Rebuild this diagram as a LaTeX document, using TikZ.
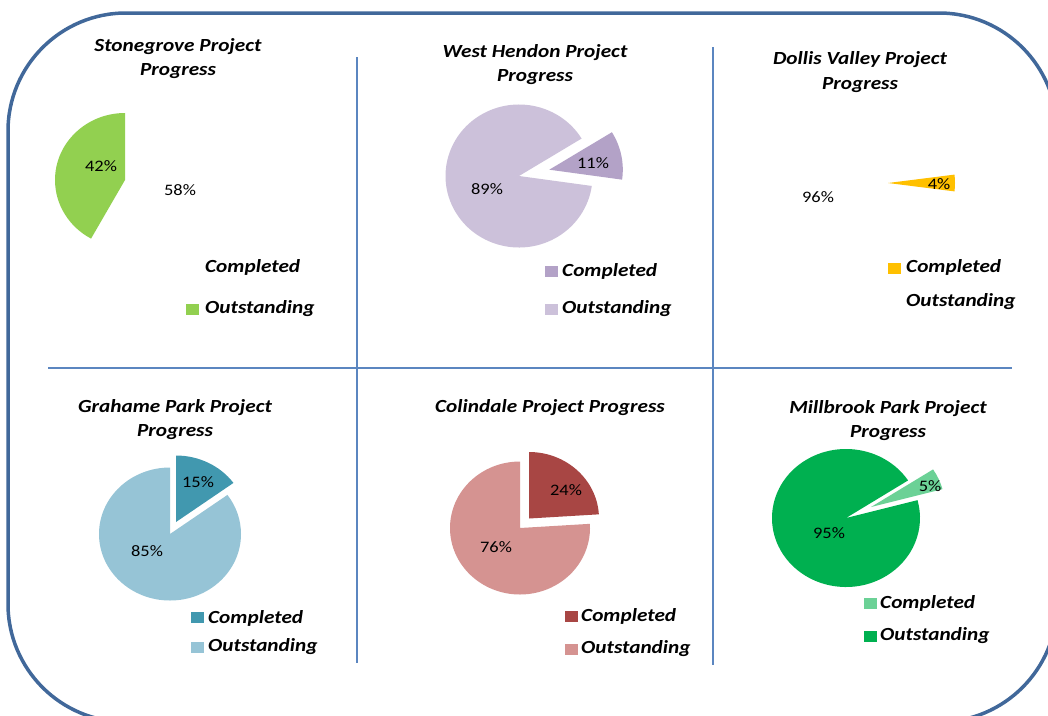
\documentclass[tikz,border=0pt]{standalone}
\usepackage{fontspec}
\newfontfamily\cf{Carlito}[FakeStretch=1.15]
\definecolor{framec}{HTML}{41689A}
\definecolor{gridc}{HTML}{5B86C0}
\definecolor{sgreen}{HTML}{92D050}
\definecolor{whlight}{HTML}{CCC1DA}
\definecolor{whdark}{HTML}{B3A2C7}
\definecolor{dvyellow}{HTML}{FFC000}
\definecolor{gplight}{HTML}{96C4D6}
\definecolor{gpdark}{HTML}{4198AF}
\definecolor{cllight}{HTML}{D59391}
\definecolor{cldark}{HTML}{A84644}
\definecolor{mbdark}{HTML}{00B050}
\definecolor{mblight}{HTML}{6BD196}
\newcommand\piesector[7]{\fill[#7] (#1,#2) -- ++({(#3)*cos(#5)},{-(#4)*sin(#5)}) arc[start angle={-(#5)}, end angle={-(#6)}, x radius=#3, y radius=#4] -- cycle;}
\tikzset{
  ttl/.style={align=center, inner sep=0pt, font=\cf\bfseries\itshape\fontsize{18.5}{24.5}\selectfont},
  pct/.style={inner sep=0pt, font=\cf\fontsize{16}{18}\selectfont},
  leg/.style={anchor=west, inner sep=0pt, font=\cf\bfseries\itshape\fontsize{18.5}{20}\selectfont},
  sq/.style={minimum width=13pt, minimum height=11pt, inner sep=0pt},
  divider/.style={draw=gridc, line width=1.5pt},
  frame/.style={draw=framec, line width=3.5pt, rounded corners=118pt}
}
\begin{document}
\begin{tikzpicture}[x=1pt,y=-1pt]
\clip (0,0) rectangle (1048,715);
\fill[white] (0,0) rectangle (1048,715);
% frame
\draw[frame] (8,13) rectangle (1057,722);
% dividers
\coordinate (v1a) at (357,57); \coordinate (v1b) at (357,663);
\coordinate (v2a) at (713,47); \coordinate (v2b) at (713,665);
\coordinate (h1a) at (48,368); \coordinate (h1b) at (1012,368);
\draw[divider] (v1a) -- (v1b);
\draw[divider] (v2a) -- (v2b);
\draw[divider] (h1a) -- (h1b);

% ---------- Panel 1: Stonegrove
\node[ttl] (t1) at (178,58.5) {Stonegrove Project\\Progress};
\piesector{125}{180}{70}{67}{90}{241}{sgreen}
\node[pct] (p1a) at (101,166) {42\%};
\node[pct] (p1b) at (180,190) {58\%};
\node[leg] (l1a) at (205,267) {Completed};
\node[sq, fill=sgreen] (s1b) at (192.5,309) {};
\node[leg] (l1b) at (205,309) {Outstanding};

% ---------- Panel 2: West Hendon
\node[ttl] (t2) at (535,64.5) {West Hendon Project\\Progress};
\piesector{519}{176}{73.5}{71.5}{31.6}{352}{whlight}
\piesector{549.3}{169.7}{73.5}{71.5}{-8}{31.6}{whdark}
\node[pct] (p2a) at (593,163) {11\%};
\node[pct] (p2b) at (487,189) {89\%};
\node[sq, fill=whdark] (s2a) at (551,271.5) {};
\node[leg] (l2a) at (562,271) {Completed};
\node[sq, fill=whlight] (s2b) at (551,309) {};
\node[leg] (l2b) at (562,309) {Outstanding};

% ---------- Panel 3: Dollis Valley
\node[ttl] (t3) at (860,72) {Dollis Valley Project\\Progress};
\piesector{888}{183}{67}{67}{-7.2}{7.2}{dvyellow}
\node[pct] (p3a) at (939,184) {4\%};
\node[pct] (p3b) at (818,197) {96\%};
\node[sq, fill=dvyellow] (s3a) at (894.5,268) {};
\node[leg] (l3a) at (906,267) {Completed};
\node[leg] (l3b) at (906,302) {Outstanding};

% ---------- Panel 4: Grahame Park
\node[ttl] (t4) at (175,419.5) {Grahame Park Project\\Progress};
\piesector{170}{534}{71}{66.5}{90}{396}{gplight}
\piesector{176}{522}{71}{66.5}{36}{90}{gpdark}
\node[pct] (p4a) at (198,482) {15\%};
\node[pct] (p4b) at (147,551) {85\%};
\node[sq, fill=gpdark] (s4a) at (197,617.5) {};
\node[leg] (l4a) at (208,618) {Completed};
\node[sq, fill=gplight] (s4b) at (197,647.5) {};
\node[leg] (l4b) at (208,647) {Outstanding};

% ---------- Panel 5: Colindale
\node[ttl] (t5) at (550,408) {Colindale Project Progress};
\piesector{520}{528}{70}{66.5}{90}{363.6}{cllight}
\piesector{529}{518.5}{70}{66.5}{3.6}{90}{cldark}
\node[pct] (p5a) at (566,490) {24\%};
\node[pct] (p5b) at (496,547) {76\%};
\node[sq, fill=cldark] (s5a) at (571.5,616.5) {};
\node[leg] (l5a) at (581,616) {Completed};
\node[sq, fill=cllight] (s5b) at (571.5,649) {};
\node[leg] (l5b) at (581,649) {Outstanding};

% ---------- Panel 6: Millbrook Park
\node[ttl] (t6) at (888,420.5) {Millbrook Park Project\\Progress};
\piesector{846}{518}{74}{69}{33}{375}{mbdark}
\piesector{871}{507}{74}{69}{15}{33}{mblight}
\node[pct] (p6a) at (930,486) {5\%};
\node[pct] (p6b) at (829,533) {95\%};
\node[sq, fill=mblight] (s6a) at (870,603) {};
\node[leg] (l6a) at (880,603) {Completed};
\node[sq, fill=mbdark] (s6b) at (870,636) {};
\node[leg] (l6b) at (880,636) {Outstanding};
\end{tikzpicture}
\end{document}
